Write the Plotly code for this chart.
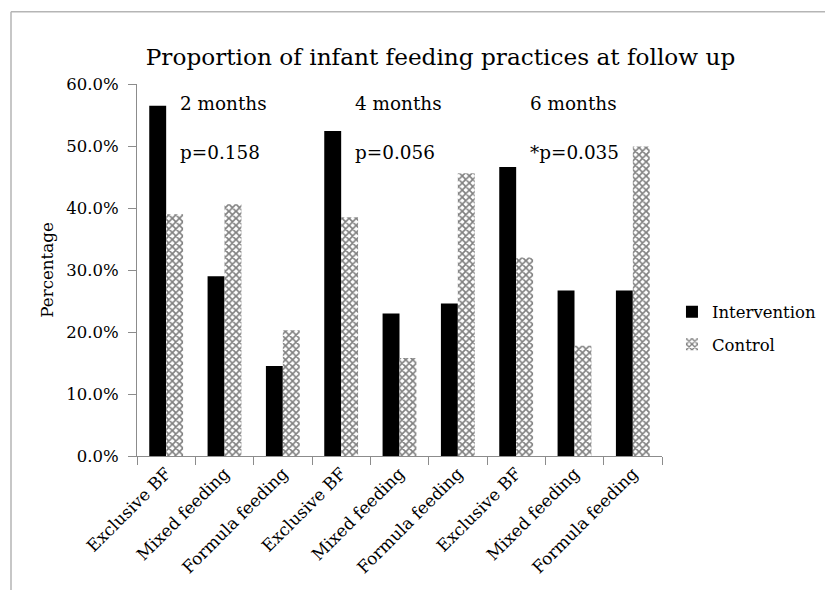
import plotly.graph_objects as go

categories = ["Exclusive BF", "Mixed feeding", "Formula feeding",
              "Exclusive BF", "Mixed feeding", "Formula feeding",
              "Exclusive BF", "Mixed feeding", "Formula feeding"]
intervention = [56.5, 29.0, 14.5, 52.4, 23.0, 24.6, 46.6, 26.7, 26.7]
control = [39.0, 40.6, 20.3, 38.5, 15.8, 45.6, 32.0, 17.8, 49.9]
periods = ["2 months", "4 months", "6 months"]
pvalues = ["p=0.158", "p=0.056", "*p=0.035"]
ytick_vals = [0, 10, 20, 30, 40, 50, 60]

FONT = "DejaVu Serif"
xpos = list(range(len(categories)))

fig = go.Figure()
fig.add_trace(go.Bar(x=xpos, y=intervention, name="Intervention", legendgroup="a",
                     marker=dict(color="black", line=dict(width=0))))
fig.add_trace(go.Bar(x=xpos, y=control, name="Control", legendgroup="b",
                     marker=dict(color="white", line=dict(width=0),
                                 pattern=dict(shape="x", fgcolor="black", bgcolor="white",
                                              size=5, solidity=0.55))))

annotations = []
for i, (per, pv) in enumerate(zip(periods, pvalues)):
    annotations.append(dict(x=i * 3 + 0.2, y=56.9, text=per, xref="x", yref="y",
                            xanchor="left", yanchor="middle", showarrow=False,
                            font=dict(family=FONT, size=18.4, color="black")))
    annotations.append(dict(x=i * 3 + 0.2, y=48.9, text=pv, xref="x", yref="y",
                            xanchor="left", yanchor="middle", showarrow=False,
                            font=dict(family=FONT, size=18.4, color="black")))
annotations.append(dict(x=-0.172, y=0.5, xref="paper", yref="paper", text="Percentage",
                        textangle=-90, showarrow=False, xanchor="center", yanchor="middle",
                        font=dict(family=FONT, size=16.7, color="black")))

fig.update_layout(
    width=825, height=590, autosize=False,
    margin=dict(l=137, r=163, t=84, b=134, autoexpand=False),
    paper_bgcolor="white", plot_bgcolor="white",
    title=dict(text="Proportion of infant feeding practices at follow up",
               x=0.534, xanchor="center", y=0.903, yanchor="middle",
               font=dict(family=FONT, size=23.2, color="black")),
    barmode="group", bargap=0.42, bargroupgap=0,
    showlegend=True,
    legend=dict(x=1.019, y=0.344, xanchor="left", yanchor="middle",
                font=dict(family=FONT, size=16.5, color="black"),
                bgcolor="rgba(0,0,0,0)", tracegroupgap=8),
    annotations=annotations,
    shapes=[
        dict(type="line", xref="paper", yref="paper", x0=-0.24, x1=-0.24, y0=1.194, y1=-0.37,
             line=dict(color="#b5b5b5", width=1.5)),
        dict(type="line", xref="paper", yref="paper", x0=-0.24, x1=1.32, y0=1.194, y1=1.194,
             line=dict(color="#b5b5b5", width=1.5)),
    ],
)

fig.update_xaxes(range=[-0.5, 8.5], tickvals=xpos, ticktext=categories, tickangle=-45,
                 ticks="", showline=True, linecolor="#8c8c8c", linewidth=1,
                 showgrid=False, zeroline=False, automargin=False,
                 tickfont=dict(family=FONT, size=16.9, color="black"),
                 minor=dict(tickvals=[i - 0.5 for i in range(10)], ticks="outside",
                            ticklen=8, tickcolor="#8c8c8c", showgrid=False))
fig.update_yaxes(range=[0, 60], tickvals=ytick_vals,
                 ticktext=[f"{v:.1f}%" for v in ytick_vals],
                 ticks="outside", ticklen=8, tickcolor="#8c8c8c",
                 showline=True, linecolor="#8c8c8c", linewidth=1,
                 showgrid=False, zeroline=False, automargin=False,
                 ticklabelstandoff=6,
                 tickfont=dict(family=FONT, size=16.5, color="black"))

fig.write_html("out.html",
               config={"displayModeBar": False, "responsive": False},
               post_script="document.body.style.margin='0px';document.body.style.overflow='hidden';")
